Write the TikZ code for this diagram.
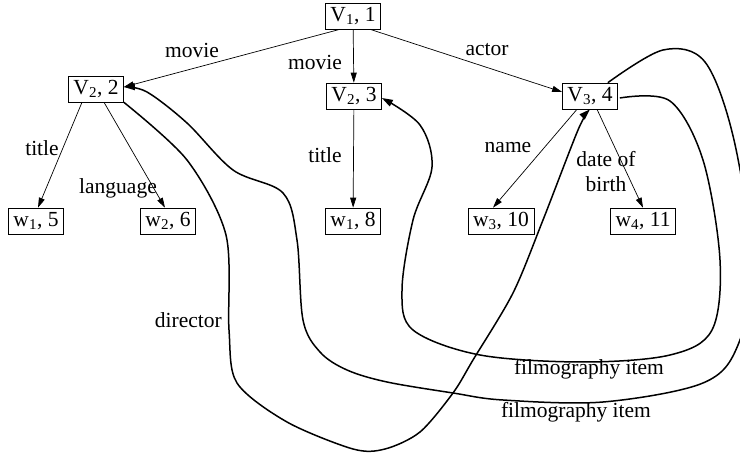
\documentclass[tikz,border=0pt]{standalone}
\usepackage{fontspec}
\setmainfont{Liberation Serif}
\usetikzlibrary{arrows.meta}
\begin{document}
\begin{tikzpicture}[x=1pt,y=-1pt,
  every node/.style={font=\fontsize{21.5}{25}\selectfont},
  vbox/.style={draw, line width=0.6pt, inner xsep=5pt, inner ysep=0pt, minimum height=26pt},
  lbl/.style={inner sep=0pt},
  edge/.style={-{Triangle[length=10pt,width=6pt]}, line width=0.7pt},
  link/.style={-{Triangle[length=11pt,width=7pt]}, line width=1.5pt}]
\useasboundingbox (0,0) rectangle (740,454);
\clip (0,0) rectangle (740,454);

% vertices
\node[vbox] (v1)  at (353,16)  {V\textsubscript{1}, 1};
\node[vbox] (v22) at (96,89)   {V\textsubscript{2}, 2};
\node[vbox] (v23) at (354,96)  {V\textsubscript{2}, 3};
\node[vbox] (v34) at (590,96)  {V\textsubscript{3}, 4};
\node[vbox] (w15) at (36,221)  {w\textsubscript{1}, 5};
\node[vbox] (w26) at (168,221) {w\textsubscript{2}, 6};
\node[vbox] (w18) at (353,221) {w\textsubscript{1}, 8};
\node[vbox] (w310) at (501,221) {w\textsubscript{3}, 10};
\node[vbox] (w411) at (643,221) {w\textsubscript{4}, 11};

% tree edges
\draw[edge] ([xshift=-13pt]v1.south) -- ([yshift=2pt]v22.east);
\draw[edge] (v1) -- (v23);
\draw[edge] ([xshift=17pt]v1.south) -- ([yshift=4pt]v34.west);
\draw[edge] ([xshift=-14pt]v22.south) -- ([xshift=2pt]w15.north);
\draw[edge] ([xshift=8pt]v22.south) -- ([xshift=-3pt]w26.north);
\draw[edge] (v23) -- (w18);
\draw[edge] ([xshift=-13pt]v34.south) -- ([xshift=-8pt]w310.north);
\draw[edge] ([xshift=7pt]v34.south) -- (w411.north);

% edge labels
\node[lbl] (lmovie1) at (192,50)  {movie};
\node[lbl] (lmovie2) at (315,62)  {movie};
\node[lbl] (lactor)  at (487,50)  {actor};
\node[lbl] (ltitle1) at (42,148)  {title};
\node[lbl] (llang)   at (118,188) {language};
\node[lbl] (ltitle2) at (325,155) {title};
\node[lbl] (lname)   at (508,148) {name};
\node[lbl, align=center] (ldob) at (606,172) {date of\\birth};

% cross links
\draw[link] plot[smooth, tension=0.5] coordinates {
  (v22.south east) (187,160) (226,235) (229,330) (237,383) (287,422)
  (353,449) (385,449) (420,432) (453,393) (473,360) (513,293) (543,220)
  (578,130) (v34.south)};
\node[lbl, anchor=east] (ldir) at (222,320) {director};

\draw[link] plot[smooth, tension=0.55] coordinates {
  ([xshift=2pt,yshift=-2pt]v34.east) (670,101) (703,160) (720,260) (712,330)
  (670,355) (583,362) (480,355) (413,330) (402,290) (413,220) (432,167)
  (420,125) ([yshift=-2pt]v23.east)};
\node[lbl] (lfilm1) at (589,369) {filmography item};

\draw[link] plot[smooth, tension=0.55] coordinates {
  ([xshift=-10pt]v34.north east) (663,50) (705,62) (734,140) (752,265)
  (738,345) (703,383) (603,402) (503,400) (453,393) (387,382) (347,370)
  (320,352) (303,320) (297,240) (283,193) (233,170) (187,123) (147,92)
  ([yshift=2pt]v22.east)};
\node[lbl] (lfilm2) at (576,412) {filmography item};
\end{tikzpicture}
\end{document}
